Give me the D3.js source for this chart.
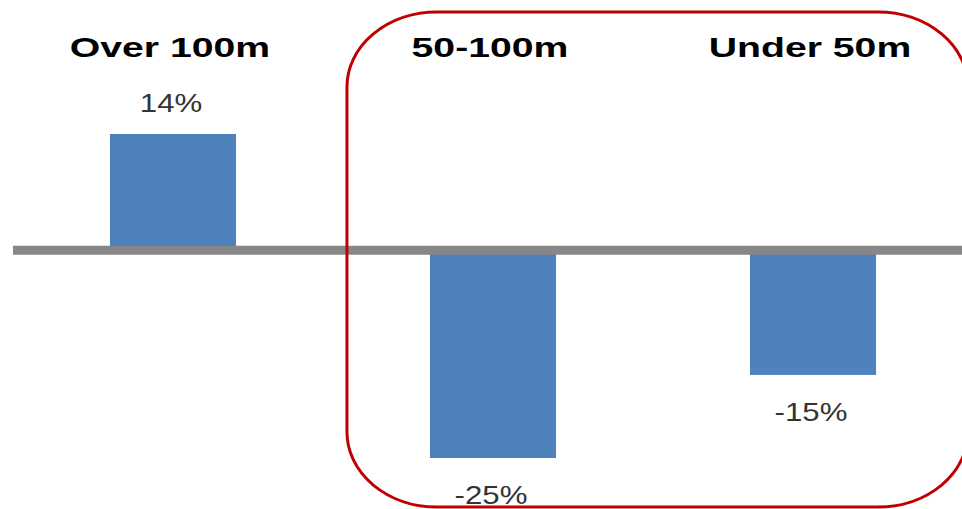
<!DOCTYPE html>
<html>
<head>
<meta charset="utf-8">
<script src="https://cdn.jsdelivr.net/npm/d3@7"></script>
<style>
  html, body { margin: 0; padding: 0; background: #fff; }
  svg { display: block; }
</style>
</head>
<body>
<div id="chart"></div>
<script>
// data
var categories = ["Over 100m", "50-100m", "Under 50m"];
var values = [14, -25, -15];
var valueLabels = ["14%", "-25%", "-15%"];
var highlighted = ["50-100m", "Under 50m"]; // grouped inside the red outline

var width = 962, height = 509;

var svg = d3.select("#chart").append("svg")
    .attr("width", width)
    .attr("height", height);

var x = d3.scaleBand()
    .domain(categories)
    .range([13, 973])
    .paddingInner(0.606)
    .paddingOuter(0.303);

var y = d3.scaleLinear()
    .domain([-25, 14])
    .range([458, 134]);

// bars
svg.selectAll(".bar")
    .data(values)
    .enter().append("rect")
    .attr("class", "bar")
    .attr("x", (d, i) => x(categories[i]))
    .attr("width", x.bandwidth())
    .attr("y", d => Math.min(y(d), y(0)))
    .attr("height", d => Math.abs(y(d) - y(0)))
    .style("fill", "#4F81BD");

// zero line
svg.append("line")
    .attr("x1", 13)
    .attr("x2", width)
    .attr("y1", y(0))
    .attr("y2", y(0))
    .style("stroke", "#878787")
    .style("stroke-width", 9);

// red rounded outline round the smaller groups
var first = x(highlighted[0]);
svg.append("rect")
    .attr("x", first - 83)
    .attr("y", 12)
    .attr("width", 621)
    .attr("height", 495)
    .attr("rx", 90)
    .attr("ry", 75)
    .style("fill", "none")
    .style("stroke", "#C00000")
    .style("stroke-width", 3);

// category titles
svg.selectAll(".title")
    .data(categories)
    .enter().append("text")
    .attr("class", "title")
    .attr("transform", d => "translate(" + (x(d) + x.bandwidth() / 2 - 3) + ",57) scale(1.4,1)")
    .attr("text-anchor", "middle")
    .style("font-family", "'Liberation Sans', Arial, sans-serif")
    .style("font-weight", "bold")
    .style("font-size", "28px")
    .style("fill", "#000")
    .text(d => d);

// value labels
svg.selectAll(".value")
    .data(values)
    .enter().append("text")
    .attr("class", "value")
    .attr("transform", (d, i) => {
      var cx = x(categories[i]) + x.bandwidth() / 2 - 2;
      var cy = d >= 0 ? y(d) - 22 : y(d) + 46;
      return "translate(" + cx + "," + cy + ") scale(1.2,1)";
    })
    .attr("text-anchor", "middle")
    .style("font-family", "'Liberation Sans', Arial, sans-serif")
    .style("font-size", "26px")
    .style("fill", "#333")
    .text((d, i) => valueLabels[i]);
</script>
</body>
</html>
